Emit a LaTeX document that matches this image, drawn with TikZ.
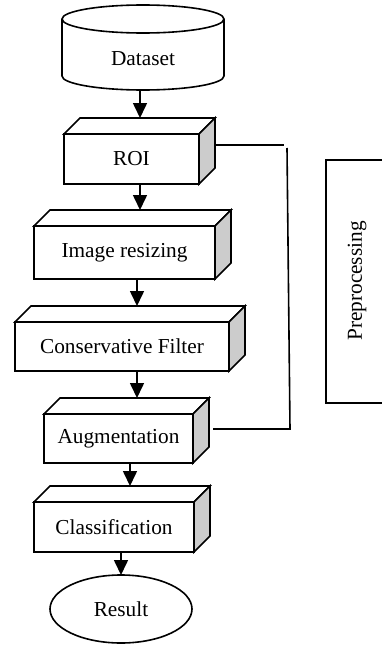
\documentclass[tikz,border=0pt]{standalone}
\usepackage{fontspec}
\setmainfont{Liberation Serif}
\usetikzlibrary{arrows.meta,shapes.geometric}
\definecolor{sidegray}{RGB}{204,204,204}
\tikzset{
  lw/.style={line width=1.6pt},
  front/.style={lw, draw, fill=white, inner sep=0pt, outer sep=0pt, font=\fontsize{21.3}{25}\selectfont},
  face/.style={lw, draw, fill=white, line join=miter},
  arr/.style={lw, -{Triangle[length=15pt,width=14pt]}},
  link/.style={lw},
  txt/.style={font=\fontsize{21.3}{25}\selectfont}
}
\newcommand\boxfaces[1]{%
  \draw[face] (#1.north west) -- ([shift={(16,-16)}]#1.north west) -- ([shift={(16,-16)}]#1.north east) -- (#1.north east) -- cycle;
  \draw[face, fill=sidegray] (#1.north east) -- ([shift={(16,-16)}]#1.north east) -- ([shift={(16,-16)}]#1.south east) -- (#1.south east) -- cycle;}
\begin{document}
\begin{tikzpicture}[x=1pt,y=-1pt]
\useasboundingbox (0,0) rectangle (382,645);
% Dataset cylinder
\draw[lw, fill=white] (62,19) -- (62,76) .. controls (62,83.7) and (98.3,90) .. (143,90) .. controls (187.7,90) and (224,83.7) .. (224,76) -- (224,19);
\draw[lw, fill=white] (143,19) ellipse [x radius=81pt, y radius=14pt];
\node[inner sep=0pt, outer sep=0pt, minimum width=162pt, minimum height=62pt, txt] (dataset) at (143,59) {Dataset};
% boxes
\node[front, minimum width=135pt, minimum height=50pt] (roi) at (131.5,159) {ROI};
\boxfaces{roi}
\node[front, minimum width=181pt, minimum height=53pt] (resize) at (124.5,252.5) {Image resizing};
\boxfaces{resize}
\node[front, minimum width=214pt, minimum height=49pt] (filter) at (122,346.5) {Conservative Filter};
\boxfaces{filter}
\node[front, minimum width=149pt, minimum height=49pt] (aug) at (118.5,438.5) {Augmentation};
\boxfaces{aug}
\node[front, minimum width=160pt, minimum height=50pt] (cls) at (114,527) {Classification};
\boxfaces{cls}
\node[lw, draw, ellipse, inner sep=0pt, outer sep=0pt, minimum width=142pt, minimum height=68pt, txt] (result) at (121,609) {Result};
% arrows
\draw[arr] (dataset.south -| 140,0) -- ([yshift=16pt]roi.north -| 140,0);
\draw[arr] (roi.south -| 140,0) -- ([yshift=16pt]resize.north -| 140,0);
\draw[arr] (resize.south -| 137,0) -- ([yshift=16pt]filter.north -| 137,0);
\draw[arr] (filter.south -| 137,0) -- ([yshift=16pt]aug.north -| 137,0);
\draw[arr] (aug.south -| 130,0) -- ([yshift=16pt]cls.north -| 130,0);
\draw[arr] (cls.south -| 121,0) -- (result.north -| 121,0);
% bracket lines
\coordinate (bt1) at (284,145);
\coordinate (bt2) at (287,148);
\coordinate (bb) at (290,429);
\draw[link] ([xshift=16pt]roi.east |- bt1) -- (bt1);
\draw[link] (bt2) -- (bb) -- (213,429) coordinate (augend);
% Preprocessing box (cut at the right edge)
\node[txt, rotate=90, inner sep=0pt] (pre) at (357,281) {Preprocessing};
\draw[lw] (385,160) -- (326,160) -- (326,403) -- (385,403);
\end{tikzpicture}
\end{document}
